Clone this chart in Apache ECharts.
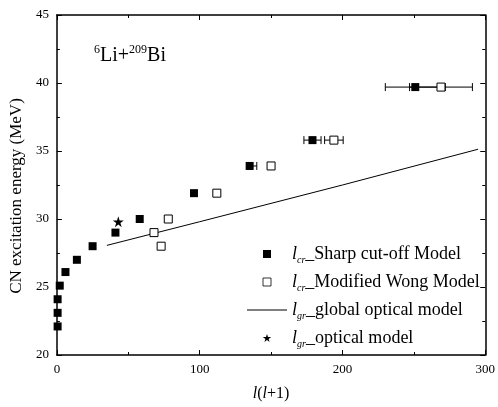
<!DOCTYPE html>
<html>
<head>
<meta charset="utf-8">
<script src="https://cdn.jsdelivr.net/npm/echarts@6/dist/echarts.min.js"></script>
<style>
html,body{margin:0;padding:0;background:#fff;}
#chart{width:498px;height:407px;}
</style>
</head>
<body>
<div id="chart"></div>
<script>
// ---- Data ----
var sharpX = [0.5, 0.5, 0.5, 2, 6, 14, 25, 41, 58, 96, 135, 179, 251];
var sharpY = [22.1, 23.1, 24.1, 25.1, 26.1, 27.0, 28.0, 29.0, 30.0, 31.9, 33.9, 35.8, 39.7];
var sharpErrMinus = [0, 0, 0, 0, 0, 0, 0, 0, 0, 0, 1, 6, 21];
var sharpErrPlus = [0, 0, 0, 0, 0, 0, 0, 0, 0, 0, 5, 6, 21];

var wongX = [68, 73, 78, 112, 150, 194, 269];
var wongY = [29.0, 28.0, 30.0, 31.9, 33.9, 35.8, 39.7];
var wongErrMinus = [0, 0, 0, 0, 0, 6.5, 22];
var wongErrPlus = [0, 0, 0, 0, 0, 6.5, 22];

var globalX = [35, 100, 200, 295];
var globalY = [28.06, 29.8, 32.5, 35.13];

var opticalX = [43];
var opticalY = [29.8];

var xTicks = { min: 0, max: 300, interval: 100 };
var yTicks = { min: 20, max: 45, interval: 5 };

var legendNames = ['Sharp', 'Wong', 'Global', 'Optical'];
var legendSub = ['cr', 'cr', 'gr', 'gr'];
var legendText = ['_Sharp cut-off Model', '_Modified Wong Model', '_global optical model', '_optical model'];

// ---- Chart ----
var FONT = 'Liberation Serif';
var SQUARE = 'path://M0,0H10V10H0Z';
var HLINE = 'path://M0,0H40V1H0Z';
var STAR = 'path://M50,0L61.8,36.2L100,36.2L69.1,58.6L80.9,95.1L50,72.6L19.1,95.1L30.9,58.6L0,36.2L38.2,36.2Z';

function zip(xs, ys) { return xs.map(function (x, i) { return [x, ys[i]]; }); }
function errData(xs, ys, em, ep) {
  var out = [];
  xs.forEach(function (x, i) { if (em[i] > 0 || ep[i] > 0) out.push([x, ys[i], em[i], ep[i]]); });
  return out;
}

function axisCommon(t, show) {
  return {
    type: 'value', min: t.min, max: t.max, interval: t.interval,
    axisLine: { show: true, onZero: false, lineStyle: { color: '#000', width: 1.5 } },
    axisTick: { show: true, inside: true, length: 5, lineStyle: { color: '#000', width: 1 } },
    minorTick: { show: true, splitNumber: 2, length: 3, lineStyle: { color: '#000', width: 1 } },
    splitLine: { show: false },
    minorSplitLine: { show: false },
    axisLabel: { show: show, color: '#000', fontFamily: FONT, fontSize: 13, margin: 8 }
  };
}

var xMain = axisCommon(xTicks, true);
xMain.position = 'bottom';
xMain.name = '{i|l}{n|(}{i|l}{n|+1)}';
xMain.nameLocation = 'middle';
xMain.nameGap = 31;
xMain.nameTextStyle = {
  color: '#000', fontFamily: FONT, fontSize: 16,
  rich: {
    i: { fontFamily: FONT, fontSize: 16, fontStyle: 'italic', color: '#000' },
    n: { fontFamily: FONT, fontSize: 16, color: '#000' }
  }
};
var xTop = axisCommon(xTicks, false);
xTop.position = 'top';

var yMain = axisCommon(yTicks, true);
yMain.position = 'left';
yMain.name = 'CN excitation energy (MeV)';
yMain.nameLocation = 'middle';
yMain.nameGap = 29;
yMain.nameTextStyle = { color: '#000', fontFamily: FONT, fontSize: 17, padding: [0, 22, 0, 0] };
var yRight = axisCommon(yTicks, false);
yRight.position = 'right';

function errRender(params, api) {
  var x = api.value(0), y = api.value(1), em = api.value(2), ep = api.value(3);
  var p1 = api.coord([x - em, y]);
  var p2 = api.coord([x + ep, y]);
  var h = 4;
  var st = { stroke: '#000', lineWidth: 1, fill: null };
  return {
    type: 'group',
    children: [
      { type: 'line', shape: { x1: p1[0], y1: p1[1], x2: p2[0], y2: p2[1] }, style: st },
      { type: 'line', shape: { x1: p1[0], y1: p1[1] - h, x2: p1[0], y2: p1[1] + h }, style: st },
      { type: 'line', shape: { x1: p2[0], y1: p2[1] - h, x2: p2[0], y2: p2[1] + h }, style: st }
    ]
  };
}

var option = {
  backgroundColor: '#fff',
  animation: false,
  title: {
    text: '{sup|6}{n|Li+}{sup|209}{n|Bi}',
    left: 94, top: 44, padding: 0,
    textStyle: {
      fontFamily: FONT, fontSize: 20, fontWeight: 'normal', color: '#000',
      rich: {
        n: { fontFamily: FONT, fontSize: 20, lineHeight: 24, color: '#000' },
        sup: { fontFamily: FONT, fontSize: 12, lineHeight: 12, verticalAlign: 'top', color: '#000' }
      }
    }
  },
  grid: { left: 55, right: 11, top: 15, bottom: 50, containLabel: false },
  xAxis: [xMain, xTop],
  yAxis: [yMain, yRight],
  legend: {
    orient: 'vertical',
    left: 247, top: 245,
    itemWidth: 40, itemHeight: 8, itemGap: 8,
    padding: 0,
    selectedMode: false,
    symbolKeepAspect: true,
    data: [
      { name: legendNames[0], icon: SQUARE },
      { name: legendNames[1], icon: SQUARE, itemStyle: { borderWidth: 0.8 } },
      { name: legendNames[2], icon: HLINE, itemStyle: { color: '#000', borderWidth: 0 } },
      { name: legendNames[3], icon: STAR }
    ],
    formatter: function (name) {
      var i = legendNames.indexOf(name);
      return '{i|l}{s|' + legendSub[i] + '}{n|' + legendText[i] + '}';
    },
    textStyle: {
      fontFamily: FONT, fontSize: 18, color: '#000',
      rich: {
        i: { fontFamily: FONT, fontSize: 18, fontStyle: 'italic', lineHeight: 22, color: '#000' },
        s: { fontFamily: FONT, fontSize: 10, fontStyle: 'italic', lineHeight: 4, verticalAlign: 'bottom', color: '#000' },
        n: { fontFamily: FONT, fontSize: 18, lineHeight: 22, color: '#000' }
      }
    }
  },
  series: [
    {
      type: 'custom', name: 'errSharp', renderItem: errRender, z: 1,
      encode: { x: 0, y: 1 }, data: errData(sharpX, sharpY, sharpErrMinus, sharpErrPlus)
    },
    {
      type: 'custom', name: 'errWong', renderItem: errRender, z: 1,
      encode: { x: 0, y: 1 }, data: errData(wongX, wongY, wongErrMinus, wongErrPlus)
    },
    {
      type: 'line', name: legendNames[2], data: zip(globalX, globalY),
      symbol: 'none', showSymbol: false, smooth: false, z: 2,
      lineStyle: { color: '#000', width: 1 }, itemStyle: { color: '#000' }
    },
    {
      type: 'scatter', name: legendNames[0], data: zip(sharpX, sharpY),
      symbol: SQUARE, symbolSize: 8, z: 3,
      itemStyle: { color: '#000', borderColor: '#000', borderWidth: 0, opacity: 1 }
    },
    {
      type: 'scatter', name: legendNames[1], data: zip(wongX, wongY),
      symbol: SQUARE, symbolSize: 8, z: 3,
      itemStyle: { color: '#fff', borderColor: '#000', borderWidth: 1, opacity: 1 }
    },
    {
      type: 'scatter', name: legendNames[3], data: zip(opticalX, opticalY),
      symbol: STAR, symbolSize: 11, z: 3,
      itemStyle: { color: '#000', opacity: 1 }
    }
  ]
};

var chart = echarts.init(document.getElementById('chart'), null, { renderer: 'canvas' });
chart.setOption(option);
</script>
</body>
</html>
